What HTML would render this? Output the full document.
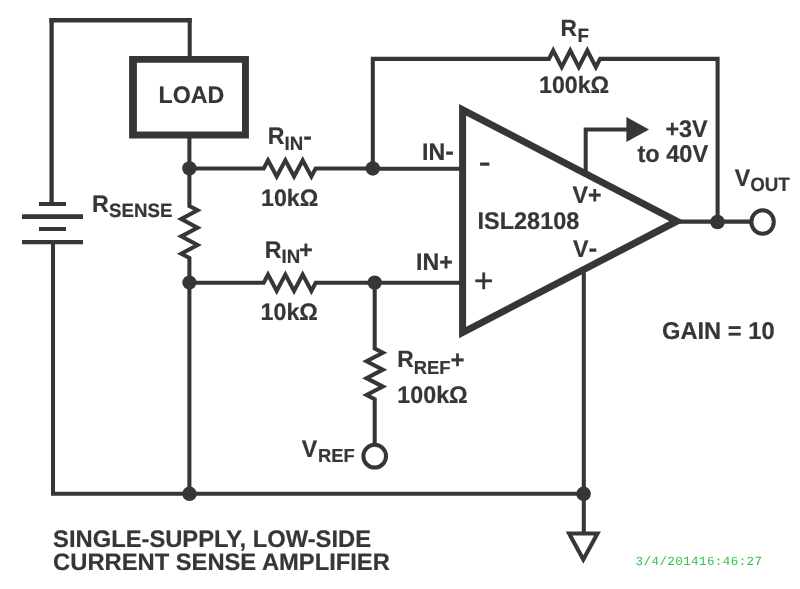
<!DOCTYPE html>
<html>
<head>
<meta charset="utf-8">
<title>Single-Supply, Low-Side Current Sense Amplifier</title>
<style>
html,body{margin:0;padding:0;background:#fff;}
body{width:800px;height:589px;overflow:hidden;}
svg{display:block;will-change:transform;}
text{text-rendering:geometricPrecision;font-family:"Liberation Sans",sans-serif;font-weight:bold;fill:#363636;stroke:#363636;stroke-width:0.2;}
.w{fill:none;stroke:#363636;stroke-width:4.05;stroke-linejoin:miter;stroke-linecap:butt;}
.t{fill:none;stroke:#363636;stroke-width:7;stroke-linejoin:miter;}
.d{fill:#363636;stroke:none;}
.o{fill:#fff;stroke:#363636;stroke-width:4;}
.ts{stroke:none;font-family:"Liberation Mono",monospace;font-weight:normal;fill:#2fc648;font-size:12.5px;}
.pm{font-weight:normal;stroke-width:0.45;}
</style>
</head>
<body>
<svg width="800" height="589" viewBox="0 0 800 589">
<rect width="800" height="589" fill="#fff"/>
<!-- supply loop -->
<path class="w" style="stroke-width:4.3" d="M51.6 204 V17.95"/>
<path class="w" style="stroke-width:4.6" d="M49.3 20.25 H191.75"/>
<path class="w" d="M189.7 17.95 V58"/>
<path class="w" d="M53 242 V493.8 H584"/>
<!-- battery -->
<path class="w" d="M39 204 H66 M39 229 H66"/>
<path class="w" style="stroke-width:4.8" d="M22 216.6 H83"/>
<path class="w" style="stroke-width:4.3" d="M22 242.1 H83"/>
<!-- load -->
<path class="d" fill-rule="evenodd" d="M129.1 56 H248.9 V138.4 H129.1 Z M136.9 62.7 V131.5 H242 V62.7 Z"/>
<!-- sense branch -->
<path class="w" d="M189.4 137 V206 l8.15 4.33 l-16.3 8.67 l16.3 8.67 l-16.3 8.67 l16.3 8.67 l-16.3 8.67 l8.15 4.33 V493.8"/>
<!-- RIN- -->
<path class="w" d="M189.5 168.4 H263.7 l4.33 -8.15 l8.67 16.3 l8.67 -16.3 l8.67 16.3 l8.67 -16.3 l8.67 16.3 l4.33 -8.15 H372.8 M372.8 168.7 H463"/>
<!-- RIN+ -->
<path class="w" d="M189.5 282.8 H263.7 l4.33 -8.15 l8.67 16.3 l8.67 -16.3 l8.67 16.3 l8.67 -16.3 l8.67 16.3 l4.33 -8.15 H463"/>
<!-- feedback with RF -->
<path class="w" d="M372.8 168.4 V58.85 H549 l4.2 -8.3 l8.53 16.6 l8.53 -16.6 l8.53 16.6 l8.53 -16.6 l8.53 16.6 l4.2 -8.3 H717.6 V222"/>
<!-- RREF -->
<path class="w" d="M374.7 282.9 V348.6 l8.15 4.15 l-16.3 8.46 l16.3 8.46 l-16.3 8.46 l16.3 8.46 l-16.3 8.46 l8.15 4.15 V446"/>
<!-- op amp -->
<path class="t" d="M462.6 109.8 V332.5 L676.9 221.15 Z"/>
<path class="w" d="M675 221.6 H752"/>
<!-- V+ supply arrow -->
<path class="w" d="M585.7 172 V129.5 H628"/>
<path class="d" d="M626.4 117 L649 129.5 L626.4 142 Z"/>
<!-- V- to ground -->
<path class="w" d="M583.8 272 V533"/>
<path class="w" d="M569.1 533.45 H597.5 L583.3 559.5 Z"/>
<!-- junctions -->
<circle class="d" cx="189.4" cy="168.45" r="7.2"/>
<circle class="d" cx="189.4" cy="282.55" r="7.1"/>
<circle class="d" cx="372.8" cy="168.45" r="7.2"/>
<circle class="d" cx="374.7" cy="282.6" r="7.2"/>
<circle class="d" cx="189.5" cy="493.8" r="7.25"/>
<circle class="d" cx="583.6" cy="493.8" r="7.3"/>
<circle class="d" cx="717.5" cy="222" r="7.25"/>
<!-- terminals -->
<ellipse class="o" cx="762.6" cy="222" rx="11.2" ry="11.7"/>
<ellipse class="o" cx="374.7" cy="456.2" rx="11.3" ry="11.4"/>
<!-- op amp input signs -->
<text class="pm" x="478.4" y="174.45" font-size="37" style="stroke-width:0.25">-</text>
<text class="pm" x="474" y="292.1" font-size="33.4">+</text>
<!-- labels -->
<text transform="translate(158.6 103.1) scale(0.973 1)" font-size="23.844">LOAD</text>
<text transform="translate(267.7 144.2) scale(0.973 1)" font-size="23.844">R<tspan dy="5.5" font-size="19.219">IN</tspan><tspan dy="-4.4" font-size="26.721">-</tspan></text>
<text transform="translate(261 206) scale(0.973 1)" font-size="23.844">10kΩ</text>
<text transform="translate(264.8 257.6) scale(0.973 1)" font-size="23.844">R<tspan dy="5.6" font-size="19.219">IN</tspan><tspan dx="-1.2" dy="-5.3" font-size="24.255">+</tspan></text>
<text transform="translate(260.6 319.6) scale(0.973 1)" font-size="23.844">10kΩ</text>
<text transform="translate(92 211.8) scale(0.973 1)" font-size="23.844">R<tspan dx="0.3" dy="4.8" font-size="19.219">SENSE</tspan></text>
<text transform="translate(560.6 36.4) scale(0.973 1)" font-size="23.33">R<tspan dx="0.4" dy="5.5" font-size="19.219">F</tspan></text>
<text transform="translate(539 93.4) scale(0.973 1)" font-size="23.844">100kΩ</text>
<text transform="translate(422 160.4) scale(0.973 1)" font-size="23.844">IN<tspan font-size="26.721">-</tspan></text>
<text transform="translate(416 270) scale(0.973 1)" font-size="23.844">IN+</text>
<text transform="translate(572.5 203) scale(0.973 1)" font-size="23.844">V+</text>
<text transform="translate(573 256.5) scale(0.973 1)" font-size="23.844">V<tspan font-size="26.721">-</tspan></text>
<text transform="translate(477.5 228.6) scale(0.973 1)" font-size="24.152">ISL28108</text>
<text transform="translate(665.4 136.7) scale(0.973 1)" font-size="24.049">+3V</text>
<text transform="translate(637.4 162) scale(0.973 1)" font-size="24.255">to 40V</text>
<text transform="translate(734.7 185.6) scale(0.973 1)" font-size="23.844">V<tspan dy="5.5" font-size="19.322">OUT</tspan></text>
<text transform="translate(662 339) scale(0.973 1)" font-size="24.358">GAIN = 10</text>
<text transform="translate(397.3 367.3) scale(0.973 1)" font-size="23.433">R<tspan dy="6.4" font-size="18.911">REF</tspan><tspan dy="-6" font-size="24.666">+</tspan></text>
<text transform="translate(397.3 402.9) scale(0.973 1)" font-size="23.947">100kΩ</text>
<text transform="translate(301.8 457) scale(0.973 1)" font-size="23.844">V<tspan dx="0.7" dy="5.2" font-size="18.911">REF</tspan></text>
<text transform="translate(53.1 547) scale(0.995 1)" font-size="23.869">SINGLE-SUPPLY, LOW-SIDE</text>
<text transform="translate(53.1 569.8) scale(0.998 1)" font-size="23.798">CURRENT SENSE AMPLIFIER</text>
<text class="ts" x="635.6" y="564.8" textLength="126.4" lengthAdjust="spacing">3/4/201416:46:27</text>
</svg>
</body>
</html>
